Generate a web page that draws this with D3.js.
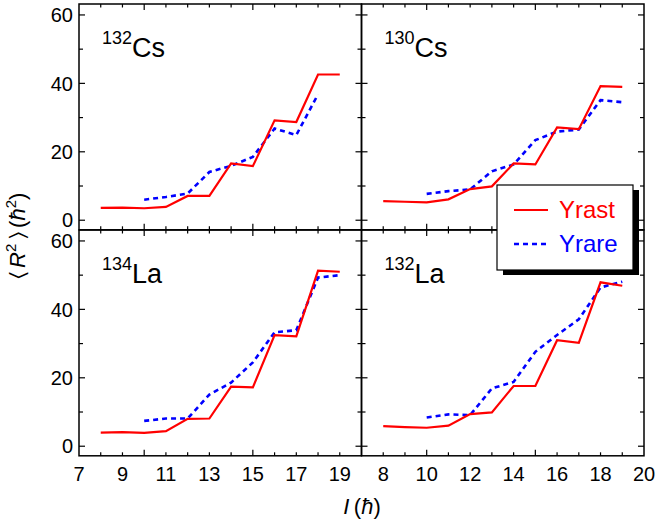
<!DOCTYPE html>
<html>
<head>
<meta charset="utf-8">
<script src="https://cdn.jsdelivr.net/npm/d3@7/dist/d3.min.js"></script>
<style>
  html, body { margin: 0; padding: 0; background: #fff; }
  svg { display: block; font-family: "Liberation Sans", Arial, Helvetica, sans-serif; }
</style>
</head>
<body>
<svg id="chart" width="657" height="522"></svg>
<script>
// Spin values I (hbar)
const spinsYrast = [8, 9, 10, 11, 12, 13, 14, 15, 16, 17, 18, 19];
const spinsYrare = [10, 11, 12, 13, 14, 15, 16, 17, 18, 19];

// <R^2> (hbar^2) per nucleus
const cs132Yrast = [3.6, 3.7, 3.5, 3.9, 7.1, 7.1, 16.6, 15.8, 29.2, 28.7, 42.6, 42.6];
const cs132Yrare = [6.0, 6.8, 7.8, 14.1, 15.9, 18.5, 26.8, 24.9, 36.8];
const cs130Yrast = [5.6, 5.4, 5.2, 6.1, 9.1, 9.9, 16.6, 16.3, 27.1, 26.6, 39.2, 39.0];
const cs130Yrare = [7.7, 8.5, 9.0, 14.3, 16.3, 23.4, 25.9, 26.5, 35.1, 34.5];
const la134Yrast = [4.0, 4.1, 3.9, 4.4, 8.0, 8.1, 17.4, 17.2, 32.5, 32.1, 51.3, 51.0];
const la134Yrare = [7.4, 8.1, 8.1, 15.1, 18.6, 24.5, 33.3, 33.9, 49.3, 50.0];
const la132Yrast = [5.9, 5.6, 5.4, 6.0, 9.4, 9.9, 17.6, 17.6, 31.0, 30.2, 47.9, 46.9];
const la132Yrare = [8.4, 9.3, 9.1, 16.9, 18.8, 27.6, 32.5, 37.1, 46.4, 48.1];

const panelLabels = [
  { mass: "132", elem: "Cs" },
  { mass: "130", elem: "Cs" },
  { mass: "134", elem: "La" },
  { mass: "132", elem: "La" }
];
const leftTickLabels = [7, 9, 11, 13, 15, 17, 19];
const rightTickLabels = [8, 10, 12, 14, 16, 18, 20];
const yTickLabels = [0, 20, 40, 60];
const seriesNames = ["Yrast", "Yrare"];

const panelData = [
  [cs132Yrast, cs132Yrare],
  [cs130Yrast, cs130Yrare],
  [la134Yrast, la134Yrare],
  [la132Yrast, la132Yrare]
];

const svg = d3.select("#chart");

// Column x scales and row y scales
const xCols = [
  d3.scaleLinear().domain([7, 20]).range([79, 361.5]),
  d3.scaleLinear().domain([7, 20]).range([361.5, 644])
];
const yRows = [
  d3.scaleLinear().domain([-2.8, 63.2]).range([229.8, 4]),
  d3.scaleLinear().domain([-2.8, 63.2]).range([455.8, 230])
];

const red = "#ff0000", blue = "#0000ff";
const tickFont = 20;

panelData.forEach((series, i) => {
  const col = i % 2, row = Math.floor(i / 2);
  const x = xCols[col], y = yRows[row];
  const [x0, x1] = x.range();
  const [y0, y1] = y.range();
  const g = svg.append("g");

  // inward ticks on all four sides
  const xMajor = [10, 15];
  const xAll = d3.range(8, 20, 1);
  const yMajor = [0, 20, 40, 60];
  const yMinor = [10, 30, 50];

  const tickAttrs = sel => sel.attr("stroke", "#000").attr("stroke-width", 1.2);
  xAll.forEach(v => {
    const len = xMajor.includes(v) ? 6 : 3.5;
    const px = x(v);
    tickAttrs(g.append("line").attr("x1", px).attr("x2", px).attr("y1", y0).attr("y2", y0 - len));
    tickAttrs(g.append("line").attr("x1", px).attr("x2", px).attr("y1", y1).attr("y2", y1 + len));
  });
  yMajor.concat(yMinor).forEach(v => {
    const len = yMajor.includes(v) ? 6 : 4;
    const py = y(v);
    tickAttrs(g.append("line").attr("x1", x0).attr("x2", x0 + len).attr("y1", py).attr("y2", py));
    tickAttrs(g.append("line").attr("x1", x1).attr("x2", x1 - len).attr("y1", py).attr("y2", py));
  });

  // frame
  g.append("rect")
    .attr("x", x0).attr("y", y1)
    .attr("width", x1 - x0).attr("height", y0 - y1)
    .attr("fill", "none").attr("stroke", "#000").attr("stroke-width", 1.5);

  // y tick labels on the left column
  if (col === 0) {
    yTickLabels.forEach(v => {
      g.append("text")
        .attr("x", x0 - 6).attr("y", y(v))
        .attr("dy", "0.36em")
        .attr("text-anchor", "end")
        .attr("font-size", tickFont)
        .text(v);
    });
  }
  // x tick labels on the bottom row
  if (row === 1) {
    const labs = col === 0 ? leftTickLabels : rightTickLabels;
    labs.forEach(v => {
      g.append("text")
        .attr("x", x(v)).attr("y", y0 + 25)
        .attr("text-anchor", "middle")
        .attr("font-size", tickFont)
        .text(v);
    });
  }

  // series lines
  const lineYrast = d3.line().x((d, k) => x(spinsYrast[k])).y(d => y(d));
  const lineYrare = d3.line().x((d, k) => x(spinsYrare[k])).y(d => y(d));
  g.append("path").datum(series[1])
    .attr("d", lineYrare)
    .attr("fill", "none").attr("stroke", blue)
    .attr("stroke-width", 2.6).attr("stroke-dasharray", "5,4");
  g.append("path").datum(series[0])
    .attr("d", lineYrast)
    .attr("fill", "none").attr("stroke", red)
    .attr("stroke-width", 2.2).attr("stroke-linejoin", "miter");

  // nucleus label
  const lab = g.append("text")
    .attr("x", x0 + 23).attr("y", y1 + 53)
    .attr("fill", "#000");
  lab.append("tspan").attr("font-size", 18).attr("dy", -13).text(panelLabels[i].mass);
  lab.append("tspan").attr("font-size", 27).attr("dy", 13).text(panelLabels[i].elem);
});

// legend with drop shadow
const leg = svg.append("g");
leg.append("rect").attr("x", 503).attr("y", 190).attr("width", 136).attr("height", 85).attr("fill", "#000");
leg.append("rect").attr("x", 497).attr("y", 185).attr("width", 136).attr("height", 85)
  .attr("fill", "#fff").attr("stroke", "#000").attr("stroke-width", 1.2);
seriesNames.forEach((name, k) => {
  const cy = 210 + k * 34;
  const col = k === 0 ? red : blue;
  leg.append("line").attr("x1", 514).attr("x2", 548).attr("y1", cy).attr("y2", cy)
    .attr("stroke", col).attr("stroke-width", k === 0 ? 2.2 : 2.6)
    .attr("stroke-dasharray", k === 0 ? null : "5,4");
  leg.append("text").attr("x", 559).attr("y", cy + 8)
    .attr("font-size", 24).attr("fill", col).text(name);
});

// axis titles
const yTitle = svg.append("text")
  .attr("transform", "translate(25,236) rotate(-90)")
  .attr("text-anchor", "middle")
  .attr("font-size", 22);
yTitle.append("tspan").text("\u2329\u2009");
yTitle.append("tspan").attr("font-style", "italic").text("R");
yTitle.append("tspan").attr("font-size", 15).attr("dy", -9).text("2");
yTitle.append("tspan").attr("dy", 9).text("\u2009\u232A\u2009(");
yTitle.append("tspan").attr("font-style", "italic").text("\u0127");
yTitle.append("tspan").attr("font-size", 15).attr("dy", -9).text("2");
yTitle.append("tspan").attr("dy", 9).text(")");

const xTitle = svg.append("text")
  .attr("x", 362).attr("y", 514)
  .attr("text-anchor", "middle")
  .attr("font-size", 22);
xTitle.append("tspan").attr("font-style", "italic").text("I\u2009");
xTitle.append("tspan").text("(");
xTitle.append("tspan").attr("font-style", "italic").text("\u0127");
xTitle.append("tspan").text(")");
</script>
</body>
</html>
